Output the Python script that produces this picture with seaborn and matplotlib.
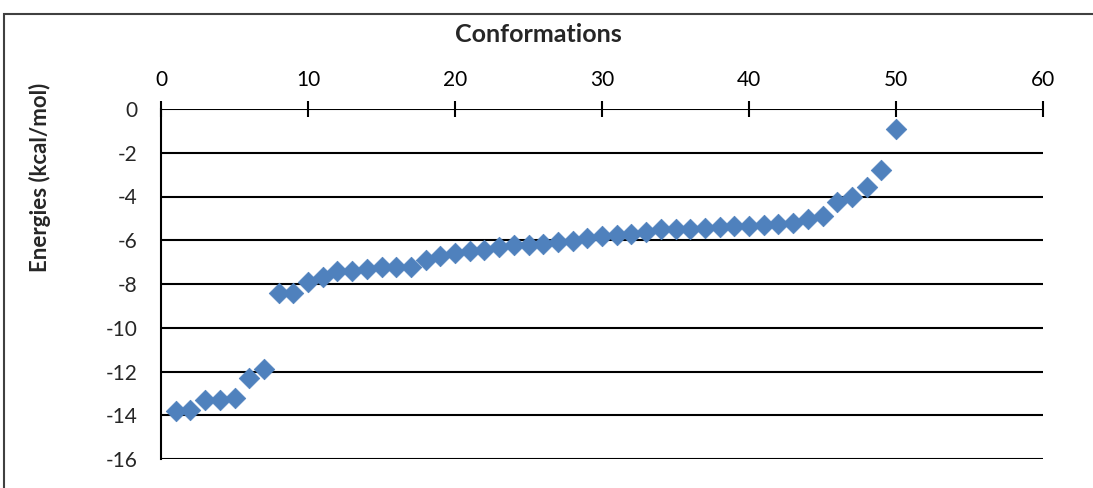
import matplotlib
matplotlib.use("Agg")
import matplotlib.pyplot as plt
from matplotlib.patches import Rectangle
import seaborn as sns
import pandas as pd

# Conformation index and its energy (kcal/mol)
conformations = list(range(1, 51))
energies = [
    -13.8, -13.75, -13.3, -13.3, -13.2, -12.3, -11.9, -8.4, -8.4, -7.9,
    -7.7, -7.4, -7.4, -7.3, -7.2, -7.2, -7.2, -6.9, -6.7, -6.6,
    -6.5, -6.45, -6.3, -6.2, -6.2, -6.15, -6.1, -6.05, -5.9, -5.8,
    -5.75, -5.7, -5.6, -5.5, -5.5, -5.5, -5.45, -5.4, -5.35, -5.35,
    -5.3, -5.25, -5.2, -5.05, -4.9, -4.25, -4.0, -3.55, -2.8, -0.9,
]
x_ticks = [0, 10, 20, 30, 40, 50, 60]
y_ticks = [0, -2, -4, -6, -8, -10, -12, -14, -16]

df = pd.DataFrame({"Conformations": conformations, "Energies": energies})

sns.set_style("white")
plt.rcParams["font.family"] = ["Lato", "DejaVu Sans"]

W, H = 1093, 488
fig = plt.figure(figsize=(W / 100, H / 100), dpi=100)
ax = fig.add_axes([161 / W, 1 - 459 / H, (1043 - 161) / W, (459 - 109) / H])

# chart frame
fig.patches.append(Rectangle((4 / W, -0.1), 1.2, 1 - 14 / H + 0.1,
                             transform=fig.transFigure, fill=False,
                             edgecolor="#404040", linewidth=1.5, zorder=0))

for yv in y_ticks:
    ax.axhline(yv, color="black", linewidth=1.5, zorder=1)

sns.scatterplot(data=df, x="Conformations", y="Energies", ax=ax,
                marker="D", s=110, color="#4F81BD", edgecolor="#4F81BD",
                linewidth=0.5, zorder=3, legend=False)

ax.set_xlim(0, 60)
ax.set_ylim(-16, 0)
ax.set_xticks(x_ticks)
ax.set_yticks(y_ticks)
ax.set_yticklabels([str(v) for v in y_ticks])
ax.xaxis.tick_top()
ax.tick_params(axis="x", direction="inout", length=12, width=1.5,
               labelsize=15, pad=8, colors="black")
ax.tick_params(axis="y", length=0, labelsize=15, pad=17)
for side in ["right", "bottom", "top"]:
    ax.spines[side].set_visible(False)
ax.spines["left"].set_color("black")
ax.spines["left"].set_linewidth(1.5)

ax.set_xlabel("")
ax.set_ylabel("Energies (kcal/mol)", fontsize=16, fontweight="bold")
ax.yaxis.set_label_coords(-(161 - 40) / (1043 - 161), (459 - 177) / 350)
ax.yaxis.label.set_va("center")
fig.text(538 / W, 1 - 34 / H, "Conformations", ha="center", va="center",
         fontsize=18, fontweight="bold")

fig.savefig("out.png", dpi=100)
